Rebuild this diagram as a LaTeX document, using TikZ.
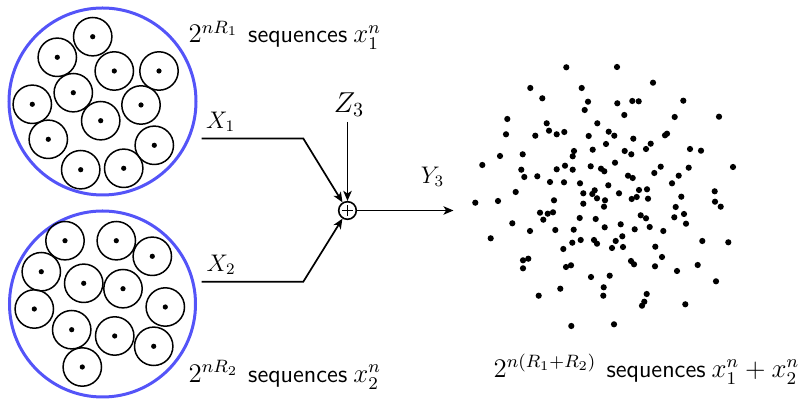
\documentclass[tikz,border=0pt]{standalone}
\usetikzlibrary{arrows.meta}
\definecolor{ringblue}{RGB}{84,84,248}
\newcommand{\lblmath}[1]{\scalebox{1.12}{$#1$}}
\newcommand{\seqword}{{\fontsize{12.4}{15}\selectfont\textsf{sequences}}}
\begin{document}
\begin{tikzpicture}[x=0.5pt,y=-0.5pt,
  txt/.style={inner sep=0pt, font=\fontsize{12}{14.4}\selectfont},
  bigtxt/.style={inner xsep=0pt, inner ysep=2.5pt, font=\fontsize{14.4}{17}\selectfont},
  bigring/.style={draw=ringblue, line width=1.5pt},
  codeword/.style={draw=black, line width=0.75pt},
  wire/.style={line width=0.85pt},
  arr/.style={wire, -{Stealth[length=5pt,width=4.2pt,inset=1.3pt]}},
  adderstyle/.style={circle, draw, line width=0.8pt, minimum size=8.8pt, inner sep=0pt}
]
\useasboundingbox (0,0) rectangle (802,399);

% big rings
\draw[bigring] (102.5,101.5) circle[radius=46.75pt];
\draw[bigring] (102.5,304) circle[radius=46.5pt];

% codewords of user 1
\foreach \x/\y in {92.7/36.7, 57.3/57.3, 114.3/71, 159/71, 73.3/92.7, 32.3/104.3,
  141/105, 100.7/120.7, 48.3/139.3, 154.3/145.3, 80.7/169.7, 123.7/168.3}{
  \draw[codeword] (\x,\y) circle[radius=9.6pt];
  \fill (\x,\y) circle[radius=1.3pt];
}
% codewords of user 2
\foreach \x/\y in {65/240.7, 116.3/240.7, 152.3/256.3, 41.3/271.7, 83.7/283.3, 123/288.7,
  34.3/309, 165.3/307, 71.7/329.7, 114.7/336, 153.7/346.3, 82.3/367}{
  \draw[codeword] (\x,\y) circle[radius=9.6pt];
  \fill (\x,\y) circle[radius=1.3pt];
}

% labels of the codebooks
\node[txt, anchor=base west] (lab1) at (188.3,43)
  {\lblmath{2^{nR_1}}\hspace{5pt}\seqword\hspace{3pt}\lblmath{x_1^n}};
\node[txt, anchor=base west] (lab2) at (188.3,382.5)
  {\lblmath{2^{nR_2}}\hspace{5pt}\seqword\hspace{3pt}\lblmath{x_2^n}};

% adder and wires
\node[adderstyle] (adder) at (347.5,210.5) {};
\draw[line width=0.8pt] ([xshift=-2.7pt]adder.center) -- ([xshift=2.7pt]adder.center);
\draw[line width=0.8pt] ([yshift=-2.7pt]adder.center) -- ([yshift=2.7pt]adder.center);

\coordinate (x1s) at (201.5,138.5);
\coordinate (x1k) at (303.3,138.5);
\coordinate (x2s) at (201.5,281.7);
\coordinate (x2k) at (303.3,281.7);
\coordinate (y3e) at (453.5,210.5);

\node[txt] (x1lab) at (220.5,122) {$X_1$};
\node[txt] (x2lab) at (221,265) {$X_2$};
\node[txt] (y3lab) at (432.5,177) {$Y_3$};
\node[bigtxt] (z3) at (349,104.5) {$Z_3$};

\draw[arr] (x1s) -- (x1k) -- (adder);
\draw[arr] (x2s) -- (x2k) -- (adder);
\draw[arr] (z3.south -| adder) -- (adder);
\draw[arr] (adder) -- (y3e);

% received cloud
\foreach \x/\y in {566.3/67.3, 617/67, 530.3/88, 581.7/88, 653/82.7, 542.3/98.3, 588/101.7,
  617.3/103.3, 632.3/101, 638.7/101.3, 683.3/100.7, 584.7/110, 507.3/119, 624.3/115,
  674.7/117, 719/116.7, 546.7/123.3, 597.3/123.3, 506/134.3, 535.3/135.7, 549/130.7,
  556.7/134.3, 564.3/132, 588.7/136, 608.7/131.7, 614.3/135.7, 633.3/138.7, 665/135.3,
  667/133.7, 606/144, 650.7/143.7, 646/149, 574/151, 592.7/149.7, 624.7/151, 631.3/154.3,
  690/149, 701/150.7, 500/156, 522.7/154.3, 572.7/156.3, 482.3/165, 521.3/169.7,
  524.3/177, 537.3/176.3, 556.7/169.3, 565/165.7, 572.7/169.7, 590.7/166.3, 601/168.7,
  604.3/171.3, 615/162.7, 628/175.7, 632.7/178, 654.3/173, 660.7/166.7, 678.7/175.7,
  688.7/167.7, 733/167, 550/182, 564/182.3, 580/183.3, 608.3/185.3, 672/183.3,
  515.7/192, 583.3/193.3, 592.3/194, 594.7/190.3, 619/193.3, 639/190, 647/189.3,
  681.3/196.7, 714.7/191.3,
  475.3/202.7, 498/201, 554/200.3, 597/198.3, 605/200.3, 604/206.7, 583.3/203.7,
  631.7/199, 636.7/197, 648/198.7, 675.7/207, 715/201.7, 720.7/206.7, 540/212.7,
  547.7/213.7, 553/212.3, 543.3/219.7, 579.7/218, 595.7/219, 640.7/215.3, 646/218.3,
  674.3/217.3, 684/214, 686/223.7, 512.3/223.3, 530/231, 555.3/230, 573.7/229.7,
  604.7/227.3, 620.7/224.3, 634.7/229.3, 649.7/227, 663.3/231, 490.7/238.3, 572.3/242.7,
  580.7/240, 594/240, 597/243.7, 615.7/241, 622.3/236.3, 612/248, 623/247, 563.3/249,
  655.3/246.7, 702.3/241, 728.3/242.3, 523/260.3, 528.3/258.7, 523/268.3, 566/267,
  571/265.3, 631/261, 634/264.3, 662/257, 655/266.3, 677/271, 697.7/265, 591/277,
  609.7/275.7, 716/281.3, 560.3/288.7, 603.7/287.3, 538.7/295.7, 603.3/295.7, 646.7/294,
  644.3/301.7, 642/305.7, 685.3/304.3, 571.3/326, 614/324.3}{
  \fill (\x,\y) circle[radius=1.55pt];
}

\node[txt, anchor=base west] (lab3) at (493.3,377.5)
  {\lblmath{2^{n(R_1+R_2)}}\hspace{5pt}\seqword\hspace{3pt}\lblmath{x_1^n+x_2^n}};
\end{tikzpicture}
\end{document}
